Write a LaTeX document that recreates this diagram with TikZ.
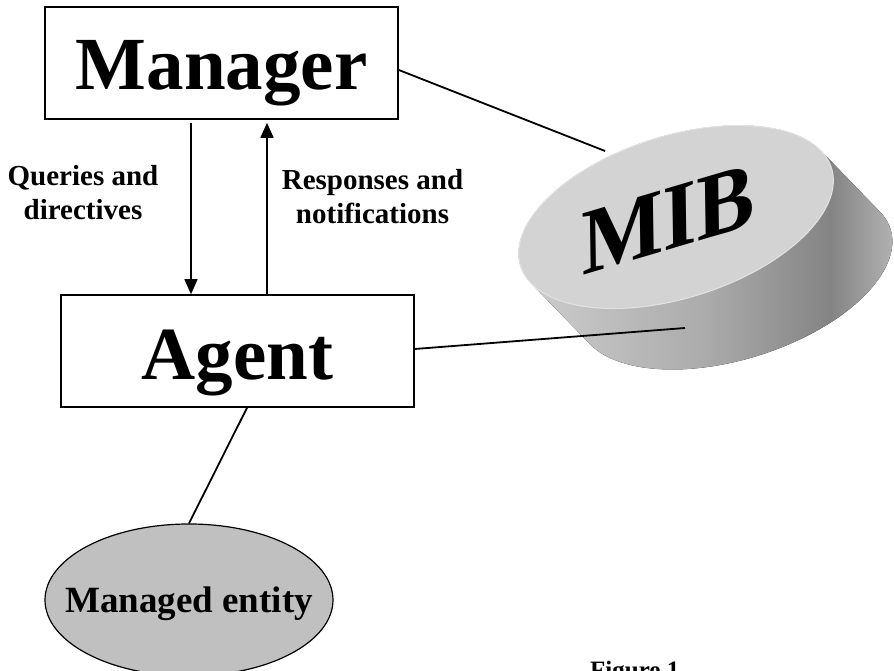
\documentclass[tikz,border=0pt]{standalone}
\usepackage{fontspec}
\setmainfont{Liberation Serif}
\newfontfamily\mibfont{Liberation Serif}[FakeSlant=0.28]
\usetikzlibrary{arrows.meta,shapes.geometric}
\definecolor{mibtop}{HTML}{D3D3D3}
\definecolor{mibrim}{HTML}{E2E2E2}
\definecolor{sideA}{HTML}{D2D2D2}
\definecolor{sideB}{HTML}{ABABAB}
\definecolor{sideC}{HTML}{848484}
\definecolor{sideD}{HTML}{C0C0C0}
\definecolor{entfill}{HTML}{C0C0C0}
\pgfdeclarehorizontalshading{mibside}{100bp}{color(0bp)=(sideA); color(25bp)=(sideA); color(50bp)=(sideB); color(65bp)=(sideC); color(75bp)=(sideD); color(100bp)=(sideD)}
\begin{document}
\begin{tikzpicture}[x=1pt,y=1pt,
  box/.style={draw, line width=1.6pt, minimum width=353pt, minimum height=112pt, inner sep=0pt, text depth=0pt, font=\bfseries\fontsize{75}{75}\selectfont},
  lbl/.style={align=center, inner sep=0pt, font=\bfseries\fontsize{29}{34}\selectfont},
  arr/.style={line width=1.6pt, -{Triangle[length=15pt,width=13pt]}},
  conn/.style={line width=1.8pt},
  ent/.style={ellipse, draw, line width=1.2pt, fill=entfill, minimum width=288pt, minimum height=152pt, inner sep=0pt, text height=26pt, text depth=0pt, font=\bfseries\fontsize{37}{37}\selectfont}]
\useasboundingbox (0,0) rectangle (894,671);

% MIB cylinder
\begin{scope}[shift={(676,454)}, rotate=17.5]
  \fill[shading=mibside] (-120.3,-95.4) arc[start angle=193.9, end angle=373.9, x radius=163pt, y radius=81pt]
     -- (158.2,19.46) arc[start angle=13.9, end angle=193.9, x radius=163pt, y radius=81pt] -- cycle;
  \filldraw[fill=mibtop, draw=mibrim, line width=1pt] (0,0) ellipse[x radius=163pt, y radius=81pt];
\end{scope}
\node[rotate=16.5, inner sep=0pt, font=\mibfont\bfseries\fontsize{90}{90}\selectfont] (mib) at (660,449) {MIB};
\coordinate (mibA) at (605,520);
\coordinate (mibB) at (685,343);

% boxes
\node[box, text height=54pt] (manager) at (221.5,608) {Manager};
\node[box, text height=58pt] (agent) at (237.5,320) {Agent};

% arrows
\draw[arr, shorten <=3pt] ([xshift=-30.5pt]manager.south) -- ([xshift=-46.5pt]agent.north);
\draw[arr, shorten >=3pt] ([xshift=29.5pt]agent.north) -- ([xshift=45.5pt]manager.south);

\node[lbl] (qd) at (83,478.5) {Queries and\\directives};
\node[lbl] (rn) at (372.5,474.5) {Responses and\\notifications};

% managed entity
\node[ent] (entity) at (189,71) {\makebox[0pt]{Managed entity}};

% connectors
\draw[conn] ([yshift=-7pt]manager.east) -- (mibA);
\draw[conn] ([yshift=2pt]agent.east) -- (mibB);
\draw[conn] ([xshift=9.5pt]agent.south) -- (entity.north);

\node[anchor=base west, inner sep=0pt, font=\bfseries\fontsize{25}{25}\selectfont] (fig) at (590,-7.6) {Figure 1};
\end{tikzpicture}
\end{document}
